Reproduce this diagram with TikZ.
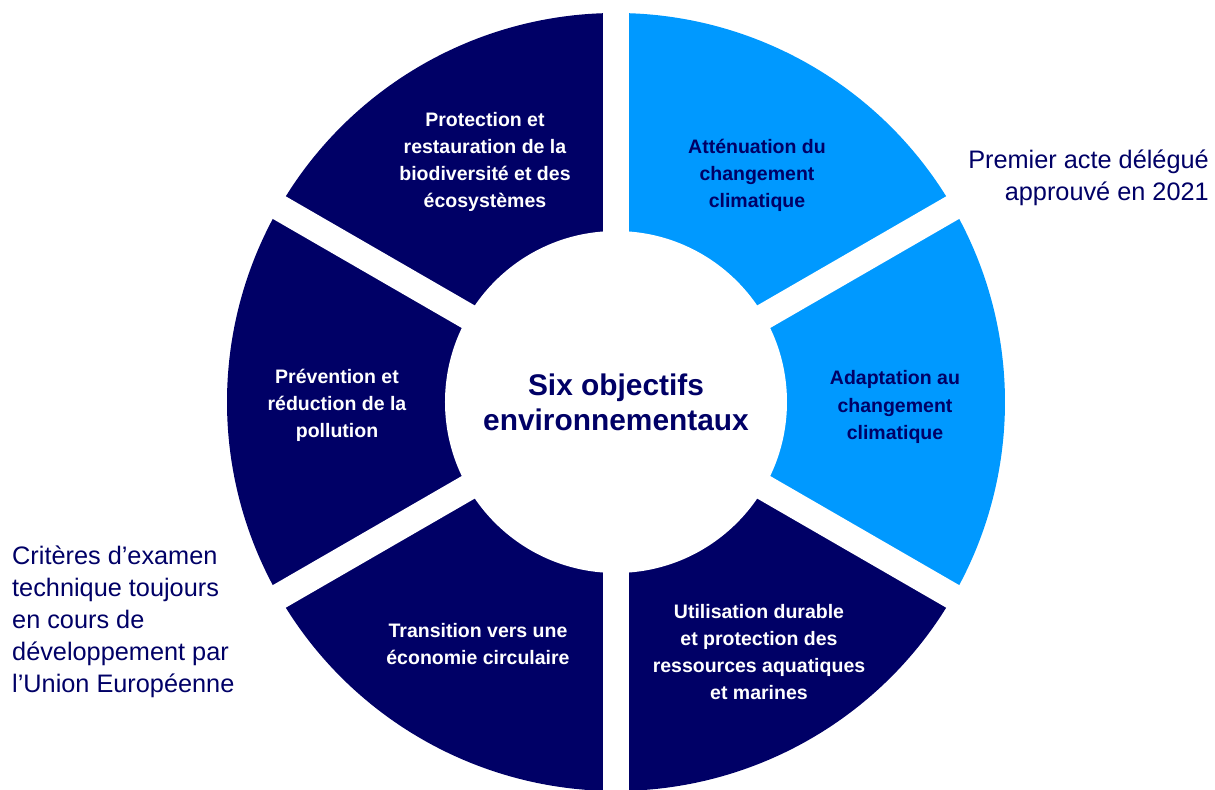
\documentclass[tikz,border=0pt]{standalone}
\usepackage{fontspec}
\setmainfont{Liberation Sans}
\definecolor{navy}{RGB}{0,0,102}
\definecolor{sky}{RGB}{0,153,255}
\tikzset{
  seg/.style={align=center, font=\bfseries\fontsize{11.1}{15.4}\selectfont},
  note/.style={text=navy, font=\fontsize{14.4}{18.2}\selectfont},
}

\begin{document}
\begin{tikzpicture}[x=0.02cm, y=0.02cm]
    \useasboundingbox (-616,-387) rectangle (599,402);
    \foreach \a/\c in {30/sky, -30/sky, 90/navy, 150/navy, 210/navy, 270/navy}
      \fill[\c] (0,0) -- (\a:389) arc (\a:\a+60:389) -- cycle;
    \fill[white] (0,0) circle (171);
    \foreach \a in {30,90,...,330}
      \draw[white, line width=0.52cm] (0,0) -- (\a:400);
    \node (mid) at (0,0) [align=center, text=navy, font=\bfseries\fontsize{17}{20}\selectfont]
      {Six objectifs\\environnementaux};
    \node (bio) at (-131,240) [seg, text=white]
      {Protection et\\restauration de la\\biodiversité et des\\écosystèmes};
    \node (att) at (141,227) [seg, text=navy]
      {Atténuation du\\changement\\climatique};
    \node (ada) at (279,-5) [seg, text=navy]
      {Adaptation au\\changement\\climatique};
    \node (eau) at (143,-250) [seg, text=white]
      {Utilisation durable\\et protection des\\ressources aquatiques\\et marines};
    \node (eco) at (-138,-242) [seg, text=white]
      {Transition vers une\\économie circulaire};
    \node (pol) at (-279,-3) [seg, text=white]
      {Prévention et\\réduction de la\\pollution};
    \node (acte) at (599,224) [note, anchor=east, align=right]
      {Premier acte délégué\\approuvé en 2021};
    \node (crit) at (-610,-220) [note, anchor=west, align=left]
      {Critères d’examen\\technique toujours\\en cours de\\développement par\\l’Union Européenne};
\end{tikzpicture}
\end{document}
